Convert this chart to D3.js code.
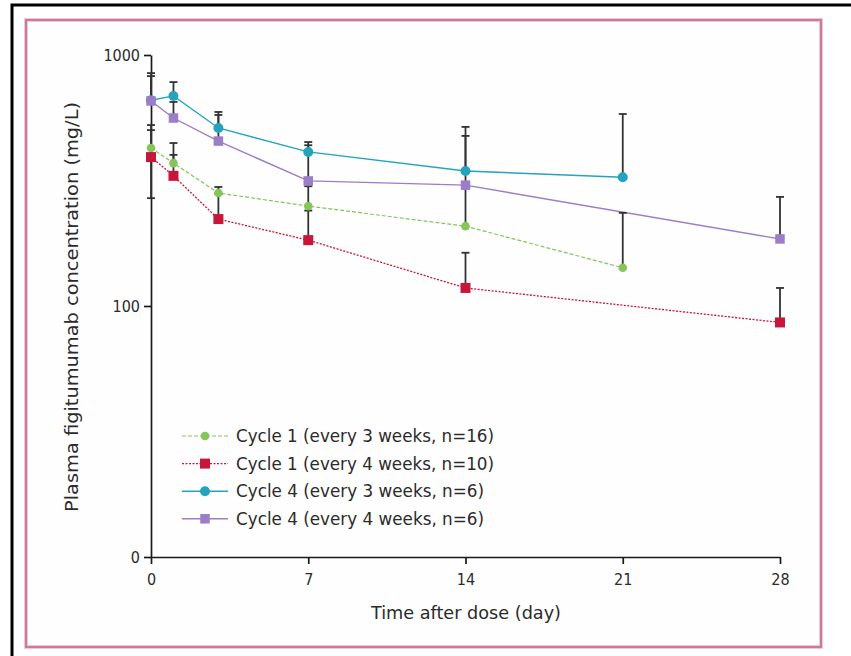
<!DOCTYPE html>
<html>
<head>
<meta charset="utf-8">
<script src="https://cdn.jsdelivr.net/npm/d3@7"></script>
<style>
  body { margin: 0; background: #fff; }
  svg { display: block; }
  text { font-family: "Liberation Sans Narrow", "DejaVu Sans Condensed", "Liberation Sans", sans-serif; fill: #2b2b2b; }
</style>
</head>
<body>
<div id="chart"></div>
<script>
// series values (mg/L)
const greenDays = [0, 1, 3, 7, 14, 21];
const greenVals = [426, 371, 282, 250, 208, 142];
const greenUpper = [526, 446, 298, 300, 300, 235];

const redDays = [0, 1, 3, 7, 14, 28];
const redVals = [392, 330, 222, 183, 118, 86];
const redUpper = [502, 400, 280, 240, 163, 118];
const redLower = [269, 330, 222, 183, 118, 86];

const cyanDays = [0, 1, 3, 7, 14, 21];
const cyanVals = [660, 687, 512, 411, 345, 326];
const cyanUpper = [824, 780, 593, 450, 517, 582];

const purpleDays = [0, 1, 3, 7, 14, 28];
const purpleVals = [656, 561, 454, 315, 303, 185];
const purpleUpper = [847, 650, 577, 437, 476, 272];

const xTicks = [0, 7, 14, 21, 28];
const yTicks = [10, 100, 1000];
const yTickLabels = ['0', '100', '1000'];

const legendLabels = [
  'Cycle 1 (every 3 weeks, n=16)',
  'Cycle 1 (every 4 weeks, n=10)',
  'Cycle 4 (every 3 weeks, n=6)',
  'Cycle 4 (every 4 weeks, n=6)',
];

const width = 851;
const height = 656;

const svg = d3.select('#chart').append('svg')
  .attr('width', width)
  .attr('height', height);

// frames
svg.append('rect')
  .attr('x', 12).attr('y', 5)
  .attr('width', 860).attr('height', 680)
  .attr('fill', '#fff')
  .attr('stroke', '#000')
  .attr('stroke-width', 3);

svg.append('rect')
  .attr('x', 26).attr('y', 20)
  .attr('width', 795).attr('height', 627)
  .attr('fill', '#fefefe')
  .attr('stroke', '#f3c6d3')
  .attr('stroke-width', 4);
svg.append('rect')
  .attr('x', 26).attr('y', 20)
  .attr('width', 795).attr('height', 627)
  .attr('fill', 'none')
  .attr('stroke', '#c27590')
  .attr('stroke-width', 1.8);

const x = d3.scaleLinear().domain([0, 28]).range([151, 780]);
const y = d3.scaleLog().domain([10, 1000]).range([557, 55]);

// axes
const xAxis = svg.append('g')
  .attr('transform', `translate(0,${y(10)})`)
  .call(d3.axisBottom(x).tickValues(xTicks).tickSize(7).tickPadding(10).tickSizeOuter(0));
const yAxis = svg.append('g')
  .attr('transform', `translate(${x(0)},0)`)
  .call(d3.axisLeft(y).tickValues(yTicks)
    .tickFormat((d, i) => yTickLabels[i]).tickSize(7).tickPadding(4).tickSizeOuter(0));

[xAxis, yAxis].forEach((ax) => {
  ax.select('.domain').attr('stroke', '#1a1a1a').attr('stroke-width', 1.7);
  ax.selectAll('.tick line').attr('stroke', '#1a1a1a').attr('stroke-width', 1.7);
  ax.selectAll('.tick text')
    .attr('fill', '#2b2b2b')
    .style('font-size', '16px')
    .style('font-family', '"Liberation Sans Narrow", "DejaVu Sans Condensed", sans-serif');
});

// axis titles
svg.append('text')
  .attr('x', 466).attr('y', 619)
  .attr('text-anchor', 'middle')
  .attr('textLength', 190)
  .attr('lengthAdjust', 'spacingAndGlyphs')
  .style('font-size', '17px')
  .text('Time after dose (day)');

svg.append('text')
  .attr('transform', 'translate(78,307) rotate(-90)')
  .attr('text-anchor', 'middle')
  .attr('textLength', 410)
  .attr('lengthAdjust', 'spacingAndGlyphs')
  .style('font-size', '17px')
  .text('Plasma figitumumab concentration (mg/L)');

const series = [
  { days: greenDays, vals: greenVals, upper: greenUpper, lower: greenVals, color: '#86c55a', shape: 'circle', size: 4.3, dash: '4,2', width: 1.2 },
  { days: redDays, vals: redVals, upper: redUpper, lower: redLower, color: '#c8163a', shape: 'square', size: 10, dash: '2,1.5', width: 1.3 },
  { days: cyanDays, vals: cyanVals, upper: cyanUpper, lower: cyanVals, color: '#24a3bf', shape: 'circle', size: 5, dash: null, width: 1.4 },
  { days: purpleDays, vals: purpleVals, upper: purpleUpper, lower: purpleVals, color: '#9b7dc8', shape: 'square', size: 9.5, dash: null, width: 1.4 },
];

const line = d3.line().x((d) => x(d[0])).y((d) => y(d[1]));

const drawMarker = (g, s, cx, cy) => {
  if (s.shape === 'circle') {
    g.append('circle')
      .attr('cx', cx).attr('cy', cy).attr('r', s.size)
      .attr('fill', s.color);
  } else {
    g.append('rect')
      .attr('x', cx - s.size / 2).attr('y', cy - s.size / 2)
      .attr('width', s.size).attr('height', s.size)
      .attr('fill', s.color);
  }
};

// lines
series.forEach((s) => {
  svg.append('path')
    .datum(s.days.map((d, i) => [d, s.vals[i]]))
    .attr('d', line)
    .attr('fill', 'none')
    .attr('stroke', s.color)
    .attr('stroke-width', s.width)
    .attr('stroke-dasharray', s.dash);
});

// error bars
const errG = svg.append('g').attr('stroke', '#333').attr('stroke-width', 1.8);
series.forEach((s) => {
  s.days.forEach((d, i) => {
    const cx = x(d);
    const top = y(s.upper[i]);
    const bot = y(s.lower[i]);
    errG.append('line').attr('x1', cx).attr('x2', cx).attr('y1', top).attr('y2', y(s.vals[i]));
    if (s.upper[i] > s.vals[i]) {
      errG.append('line').attr('x1', cx - 4).attr('x2', cx + 4).attr('y1', top).attr('y2', top);
    }
    if (s.lower[i] < s.vals[i]) {
      errG.append('line').attr('x1', cx).attr('x2', cx).attr('y1', y(s.vals[i])).attr('y2', bot);
      errG.append('line').attr('x1', cx - 4).attr('x2', cx + 4).attr('y1', bot).attr('y2', bot);
    }
  });
});

// markers
series.forEach((s) => {
  const g = svg.append('g');
  s.days.forEach((d, i) => drawMarker(g, s, x(d), y(s.vals[i])));
});

// legend
const legend = svg.append('g');
series.forEach((s, i) => {
  const ly = 436 + i * 27.6;
  legend.append('line')
    .attr('x1', 182).attr('x2', 228)
    .attr('y1', ly).attr('y2', ly)
    .attr('stroke', s.color)
    .attr('stroke-width', s.width)
    .attr('stroke-dasharray', s.dash);
  drawMarker(legend, s, 205, ly);
  legend.append('text')
    .attr('x', 236).attr('y', ly + 6)
    .attr('textLength', i < 2 ? 258 : 248)
    .attr('lengthAdjust', 'spacingAndGlyphs')
    .style('font-size', '17px')
    .text(legendLabels[i]);
});
</script>
</body>
</html>
